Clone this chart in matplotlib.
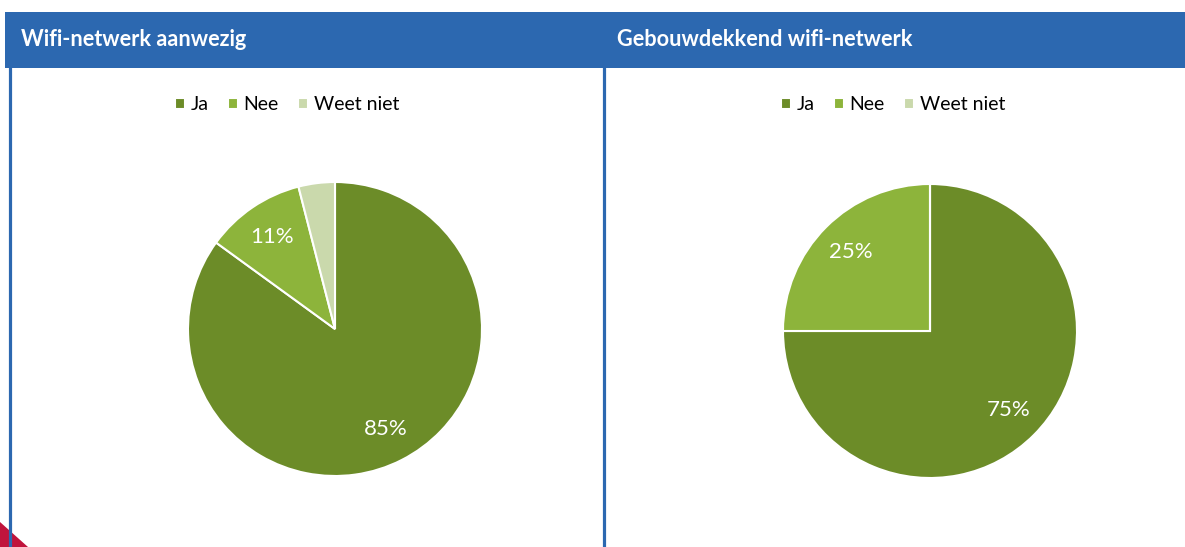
import matplotlib.pyplot as plt
from matplotlib.patches import Rectangle, Polygon
from matplotlib.lines import Line2D

categories = ['Ja', 'Nee', 'Weet niet']
wifi_aanwezig = [85, 11, 4]
wifi_gebouwdekkend = [75, 25, 0]
titles = ['Wifi-netwerk aanwezig', 'Gebouwdekkend wifi-netwerk']

colors = ['#6C8C28', '#8DB43B', '#CAD9AC']
blue = '#2C68B0'

W, H = 1185, 547
fig = plt.figure(figsize=(W / 100, H / 100), dpi=100)
fig.patch.set_facecolor('white')

def px(x, y):
    # pixel coords (from top-left) -> figure fraction
    return x / W, 1 - y / H

# blue header band
x0, y0 = px(5, 68)
fig.patches.append(Rectangle((x0, y0), 1 - x0, 56 / H, transform=fig.transFigure,
                             facecolor=blue, edgecolor='none', zorder=0))

# panel borders
for xb in [10, 604]:
    xa, ya = px(xb, 68)
    fig.lines.append(Line2D([xa, xa], [0, ya], transform=fig.transFigure,
                            color=blue, lw=2.3))

# red corner
fig.patches.append(Polygon([px(0, 522), px(0, 547), px(28, 547)], closed=True,
                           transform=fig.transFigure, facecolor='#C0143C',
                           edgecolor='none'))

title_x = [21, 617]
for t, tx in zip(titles, title_x):
    fx, fy = px(tx, 39)
    fig.text(fx, fy, t, color='white', fontsize=15.6, fontweight='bold',
             family='Lato', va='center', ha='left')


def label_fmt(pct):
    return '%d%%' % round(pct) if pct >= 5 else ''


def draw_pie(values, cx, cy, legend_cx):
    r = 147
    lx, ly = px(cx - r, cy + r)
    ax = fig.add_axes([lx, ly, 2 * r / W, 2 * r / H])
    wedges, texts, autotexts = ax.pie(values, colors=colors, startangle=90,
                                      counterclock=False, autopct=label_fmt,
                                      pctdistance=0.76,
                                      wedgeprops=dict(edgecolor='white', linewidth=1.5))
    for a in autotexts:
        a.set_color('white')
        a.set_fontsize(16)
        a.set_family('Lato')
    ax.set_xlim(-1.0, 1.0)
    ax.set_ylim(-1.0, 1.0)
    ax.set_aspect('equal')
    lgx, lgy = px(legend_cx, 105)
    fig.legend(wedges, categories, loc='center', bbox_to_anchor=(lgx, lgy),
               ncol=3, frameon=False, prop={'family': 'Lato', 'size': 14},
               handlelength=0.5, handleheight=0.5, handletextpad=0.3,
               columnspacing=1.0)


draw_pie(wifi_aanwezig, 335, 329, 287)
draw_pie(wifi_gebouwdekkend, 930, 331, 893)

fig.savefig('out.png', dpi=100)
